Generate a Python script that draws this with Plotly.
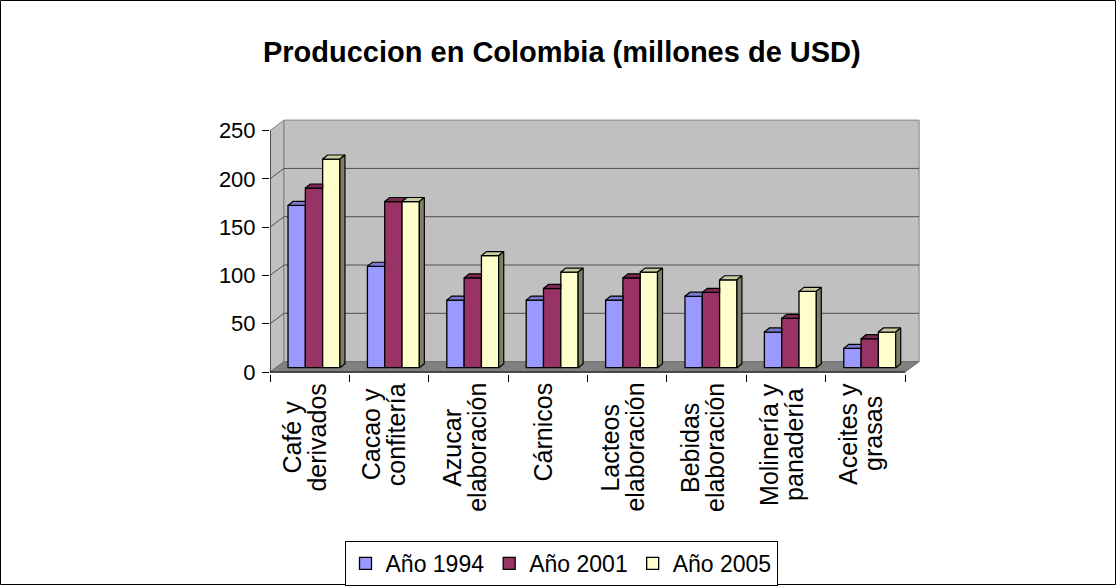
import plotly.graph_objects as go

# ---------------- data ----------------
categories = ["Café y\nderivados", "Cacao y\nconfitería", "Azucar\nelaboración",
              "Cárnicos", "Lacteos\nelaboración", "Bebidas\nelaboración",
              "Molinería y\npanadería", "Aceites y\ngrasas"]
series_names = ["Año 1994", "Año 2001", "Año 2005"]
v1994 = [168, 105, 70, 70, 70, 74, 37, 20]
v2001 = [186, 172, 93, 82, 93, 78, 51, 30]
v2005 = [216, 172, 116, 99, 99, 91, 79, 37]
y_ticks = [0, 50, 100, 150, 200, 250]
title_text = "Produccion en Colombia (millones de USD)"

# ---------------- style ----------------
colors_front = ["#9999FF", "#993366", "#FFFFCC"]
colors_top = ["#7A7ACC", "#7A2952", "#CCCCA3"]
colors_side = ["#4D4D80", "#4D1A33", "#808066"]
FONT = "Liberation Sans, Arial, sans-serif"
CAT_FONT = 25
TICK_FONT = 22
LEG_FONT = 23
TITLE_FONT = 29

W, H = 1117, 586
ML, MR, MT, MB = 270, 192, 118, 212
XR = [-0.5, 7.75]
YR = [-2, 263]
PW = W - ML - MR
PH = H - MT - MB

WALL_DX, WALL_DY = 0.176, 10.8
BAR_W = 0.218
GROUP_START = -0.273
BASE = 4.5
TOP_DX, TOP_DY = 0.063, 4.2
YMAX = y_ticks[-1]

series = [v1994, v2001, v2005]
n = len(categories)


def px2paper_x(px):
    return (px - ML) / PW


def px2paper_y(py):
    return (MT + PH - py) / PH


# approximate Arial / Liberation Sans advance widths (1/1000 em), used to centre label lines
CW = {"a": 556, "b": 556, "c": 500, "d": 556, "e": 556, "f": 278, "g": 556, "i": 222,
      "l": 222, "n": 556, "o": 556, "p": 556, "r": 333, "s": 500, "t": 278, "u": 556,
      "v": 500, "y": 500, "z": 500, "é": 556, "í": 278, "ó": 556, "á": 556, "A": 667,
      "B": 667, "C": 722, "L": 556, "M": 833, " ": 278}


def text_len(s, size):
    return sum(CW.get(ch, 556) for ch in s) * size / 1000.0


fig = go.Figure()

# front faces
for k, vals in enumerate(series):
    fig.add_trace(go.Bar(
        x=list(range(n)), y=vals, base=BASE,
        offset=GROUP_START + k * BAR_W, width=BAR_W,
        name=series_names[k],
        marker=dict(color=colors_front[k], line=dict(color="black", width=1.3)),
        hoverinfo="skip",
    ))

# top and side faces (pseudo-3D)
for k, vals in enumerate(series):
    tx, ty, sx, sy = [], [], [], []
    for i, v in enumerate(vals):
        x0 = i + GROUP_START + k * BAR_W
        x1 = x0 + BAR_W
        t = BASE + v
        tn = BASE + series[k + 1][i] if k < 2 else None
        if tn is not None and tn > t:
            tx += [x0, x1, x1, x0 + TOP_DX, x0, None]
            ty += [t, t, t + TOP_DY, t + TOP_DY, t, None]
        else:
            tx += [x0, x1, x1 + TOP_DX, x0 + TOP_DX, x0, None]
            ty += [t, t, t + TOP_DY, t + TOP_DY, t, None]
        if tn is None:
            sx += [x1, x1, x1 + TOP_DX, x1 + TOP_DX, x1, None]
            sy += [BASE, t, t + TOP_DY, BASE + TOP_DY, BASE, None]
        elif t > tn:
            sx += [x1, x1, x1 + TOP_DX, x1 + TOP_DX, x1, None]
            sy += [tn, t, t + TOP_DY, tn + TOP_DY, tn, None]
    fig.add_trace(go.Scatter(x=tx, y=ty, mode="lines", fill="toself",
                             fillcolor=colors_top[k], line=dict(color="black", width=1.2),
                             showlegend=False, hoverinfo="skip"))
    if sx:
        fig.add_trace(go.Scatter(x=sx, y=sy, mode="lines", fill="toself",
                                 fillcolor=colors_side[k], line=dict(color="black", width=1.2),
                                 showlegend=False, hoverinfo="skip"))

# invisible trace on secondary x axis (boundary ticks)
fig.add_trace(go.Scatter(x=[0], y=[0], xaxis="x2", mode="markers",
                         marker=dict(opacity=0), showlegend=False, hoverinfo="skip"))

shapes = []
xl, xr = -0.5, n - 0.5
shapes.append(dict(type="path", xref="x", yref="y", layer="below",
                   path=f"M {xl},0 L {xl},{YMAX} L {xl+WALL_DX},{YMAX+WALL_DY} L {xl+WALL_DX},{WALL_DY} Z",
                   fillcolor="#C0C0C0", line=dict(color="#808080", width=1)))
shapes.append(dict(type="rect", xref="x", yref="y", layer="below",
                   x0=xl + WALL_DX, x1=xr + WALL_DX, y0=WALL_DY, y1=YMAX + WALL_DY,
                   fillcolor="#C0C0C0", line=dict(color="#808080", width=1)))
shapes.append(dict(type="path", xref="x", yref="y", layer="below",
                   path=f"M {xl},0 L {xr},0 L {xr+WALL_DX},{WALL_DY} L {xl+WALL_DX},{WALL_DY} Z",
                   fillcolor="#808080", line=dict(color="#707070", width=1)))
for v in y_ticks[1:-1]:
    shapes.append(dict(type="path", xref="x", yref="y", layer="below",
                       path=f"M {xl},{v} L {xl+WALL_DX},{v+WALL_DY} L {xr+WALL_DX},{v+WALL_DY}",
                       line=dict(color="#505050", width=1)))
shapes.append(dict(type="line", xref="x", yref="y", layer="below",
                   x0=xl, x1=xl, y0=0, y1=YMAX, line=dict(color="black", width=1)))
shapes.append(dict(type="line", xref="x", yref="y", layer="below",
                   x0=xl, x1=xr, y0=0, y1=0, line=dict(color="black", width=1)))
shapes.append(dict(type="rect", xref="paper", yref="paper", layer="above",
                   x0=px2paper_x(0.5), x1=px2paper_x(W - 1.5),
                   y0=px2paper_y(H - 1.5), y1=px2paper_y(0.5),
                   line=dict(color="black", width=1), fillcolor="rgba(0,0,0,0)"))

# category labels: rotated, lines centred on each other, block top just under the axis
LABEL_TOP_PX = 383
LINE_SP = 25 / 79.4       # line spacing in x units
LABEL_SHIFT = -0.06
annotations = []
for i, lab in enumerate(categories):
    lines = lab.split("\n")
    maxlen = max(text_len(s, CAT_FONT) for s in lines)
    ymid = px2paper_y(LABEL_TOP_PX + maxlen / 2)
    for j, s in enumerate(lines):
        xpos = i + LABEL_SHIFT + (j - (len(lines) - 1) / 2) * LINE_SP
        annotations.append(dict(text=s, x=xpos, xref="x", y=ymid, yref="paper",
                                xanchor="center", yanchor="middle", textangle=-90,
                                showarrow=False, font=dict(family=FONT, size=CAT_FONT,
                                                           color="black")))

fig.update_layout(
    width=W, height=H,
    margin=dict(l=ML, r=MR, t=MT, b=MB, pad=0, autoexpand=False),
    paper_bgcolor="white", plot_bgcolor="rgba(0,0,0,0)",
    barmode="overlay",
    font=dict(family=FONT, size=TICK_FONT, color="black"),
    title=dict(text=title_text, x=0.503, xanchor="center", y=1 - 52 / H, yanchor="middle",
               yref="container",
               font=dict(family=FONT, size=TITLE_FONT, color="black", weight="bold")),
    xaxis=dict(range=XR, showticklabels=False, ticks="", showgrid=False, zeroline=False,
               showline=False),
    xaxis2=dict(range=XR, overlaying="x", anchor="y", side="bottom", tickmode="array",
                tickvals=[i - 0.5 for i in range(n + 1)], ticks="outside", ticklen=7,
                tickcolor="black", showticklabels=False, showgrid=False, zeroline=False,
                showline=False),
    yaxis=dict(range=YR, tickmode="array", tickvals=y_ticks, ticks="outside", ticklen=7,
               tickcolor="black", showgrid=False, zeroline=False, showline=False,
               ticklabelstandoff=2,
               tickfont=dict(size=TICK_FONT, color="black")),
    legend=dict(orientation="h", x=px2paper_x(561), xanchor="center",
                y=px2paper_y(541), yanchor="top", bordercolor="black", borderwidth=1,
                bgcolor="white", font=dict(size=LEG_FONT, color="black"), itemwidth=30,
                traceorder="normal"),
    shapes=shapes,
    annotations=annotations,
    showlegend=True,
)

fig.write_html(
    "out.html",
    config={"displayModeBar": False},
    post_script="document.body.style.margin='0';",
)
